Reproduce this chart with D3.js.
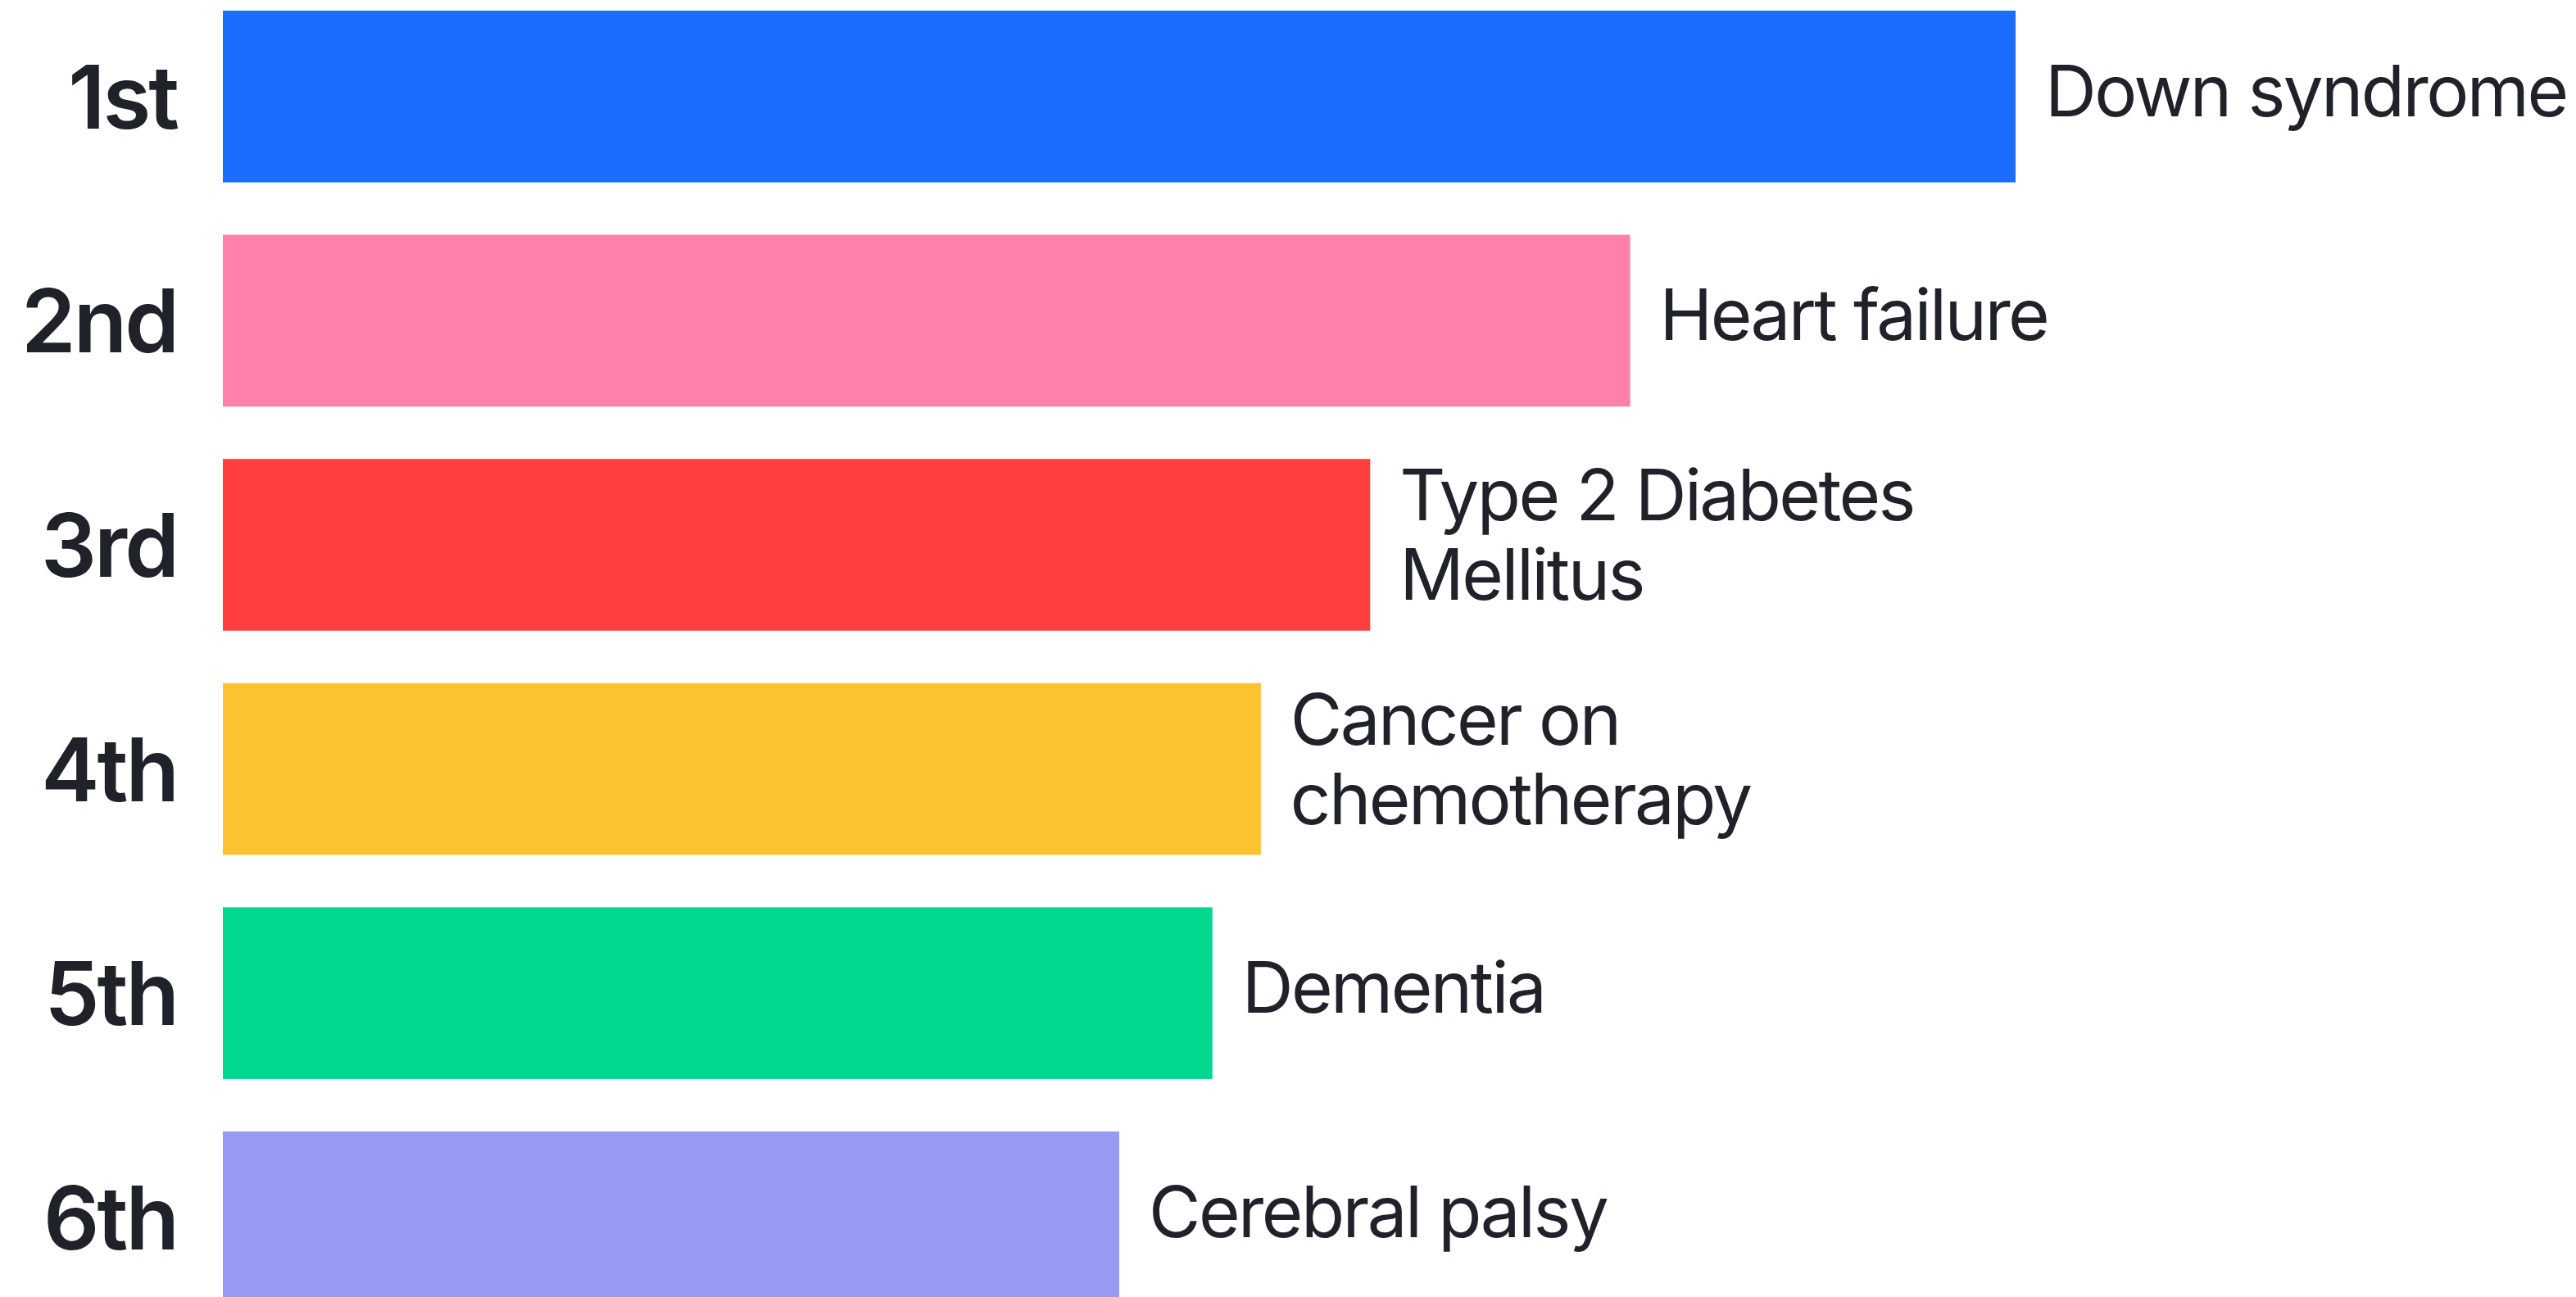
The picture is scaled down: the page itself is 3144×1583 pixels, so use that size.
<!DOCTYPE html>
<html lang="en">
<head>
  <meta charset="UTF-8">
  <title>Ranking</title>
  <script src="https://d3js.org/d3.v7.min.js"></script>
  <style>
    body { margin: 0; background: #fff; }
    svg { display: block; }
  </style>
</head>
<body>
  <script>
    var ranks = ["1st", "2nd", "3rd", "4th", "5th", "6th"];
    var conditions = [
      ["Down syndrome"],
      ["Heart failure"],
      ["Type 2 Diabetes", "Mellitus"],
      ["Cancer on", "chemotherapy"],
      ["Dementia"],
      ["Cerebral palsy"]
    ];
    var values = [100, 78.5, 64, 57.9, 55.2, 50];
    var colors = ["#1a6dff", "#ff80aa", "#ff3f3f", "#fdc232", "#00d890", "#979bf4"];

    var width = 3144;
    var height = 1583;

    var svg = d3.select("body")
                .append("svg")
                .attr("width", width)
                .attr("height", height);

    var x = d3.scaleLinear()
              .domain([0, 100])
              .range([272, 2460]);

    var y = d3.scaleBand()
              .domain(ranks)
              .range([13, 1590.5])
              .paddingInner(0.234)
              .paddingOuter(0);

    var rows = svg.selectAll(".row")
                  .data(ranks)
                  .enter()
                  .append("g")
                  .attr("class", "row");

    rows.append("rect")
        .attr("x", x(0))
        .attr("y", d => y(d))
        .attr("width", (d, i) => x(values[i]) - x(0))
        .attr("height", y.bandwidth())
        .style("fill", (d, i) => colors[i]);

    // rank labels on the left
    rows.append("text")
        .attr("x", 216)
        .attr("y", d => y(d) + y.bandwidth() / 2 + 39)
        .attr("text-anchor", "end")
        .style("font-family", "Inter, 'Liberation Sans', sans-serif")
        .style("font-weight", 600)
        .style("font-size", "107px")
        .style("letter-spacing", "-3px")
        .style("fill", "#1f2229")
        .text(d => d);

    // condition names after each bar
    var names = rows.append("text")
        .style("font-family", "Inter, 'Noto Sans', sans-serif")
        .style("font-weight", 400)
        .style("font-size", "87px")
        .style("letter-spacing", "-2.6px")
        .style("fill", "#1f2229");

    names.each(function(d, i) {
      var lines = conditions[i];
      var c = y(d) + y.bandwidth() / 2;
      var base = c + 24 - (lines.length - 1) * 54;
      d3.select(this).selectAll("tspan")
        .data(lines)
        .enter()
        .append("tspan")
        .attr("x", x(values[i]) + 36)
        .attr("y", (l, j) => base + j * 97)
        .text(l => l);
    });
  </script>
</body>
</html>
